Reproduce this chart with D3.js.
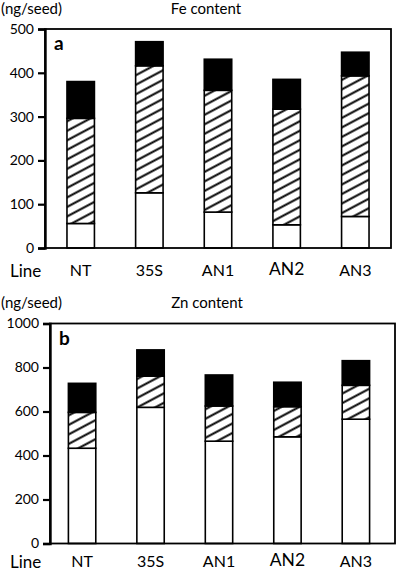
<!DOCTYPE html>
<html><head><meta charset="utf-8">
<script src="https://cdn.jsdelivr.net/npm/d3@7"></script>
<style>body{margin:0;background:#fff}svg{display:block;font-family:Lato,"Open Sans",sans-serif}</style>
</head><body><svg id="c" width="397" height="571"></svg>
<script>
const lines = ["NT","35S","AN1","AN2","AN3"];
const segKeys = ["white","hatch","black"];
const feWhite = [56,126,82,53,72];
const feHatch = [240,290,278,264,321];
const feBlack = [84,55,71,68,54];
const znWhite = [433,619,465,485,565];
const znHatch = [163,142,160,137,154];
const znBlack = [132,119,141,111,112];
const feTicks = [0,100,200,300,400,500];
const znTicks = [0,200,400,600,800,1000];

const svg = d3.select("#c");
const defs = svg.append("defs");
const pat = defs.append("pattern").attr("id","hatch").attr("patternUnits","userSpaceOnUse")
  .attr("width",10).attr("height",8.4).attr("patternTransform","rotate(-28)");
pat.append("rect").attr("width",10).attr("height",8.4).attr("fill","#fff");
pat.append("line").attr("x1",-1).attr("x2",11).attr("y1",4.2).attr("y2",4.2).attr("stroke","#000").attr("stroke-width",2);

function chart(cfg){
  const rows = lines.map((l,i)=>({line:l, white:cfg.w[i], hatch:cfg.h[i], black:cfg.b[i]}));
  const stack = d3.stack().keys(segKeys)(rows);
  const x = d3.scaleBand().domain(lines).range([cfg.x0,cfg.x1]).paddingInner(0.6).paddingOuter(0.32).align(cfg.align);
  const y = d3.scaleLinear().domain([0,cfg.max]).range([cfg.y0,cfg.y1]);
  const g = svg.append("g");
  const fills = {white:"#fff", hatch:"url(#hatch)", black:"#000"};
  stack.forEach(s=>{
    g.selectAll(null).data(s).enter().append("rect")
      .attr("x",d=>x(d.data.line)).attr("width",x.bandwidth())
      .attr("y",d=>y(d[1])).attr("height",d=>y(d[0])-y(d[1]))
      .attr("fill",fills[s.key]).attr("stroke","#000").attr("stroke-width",1.6);
  });
  g.append("rect").attr("x",cfg.x0).attr("y",cfg.y1).attr("width",cfg.x1-cfg.x0).attr("height",cfg.y0-cfg.y1)
    .attr("fill","none").attr("stroke","#000").attr("stroke-width",1.8);
  const ax = d3.axisLeft(y).tickValues(cfg.ticks).tickFormat(d3.format("d")).tickSize(7).tickPadding(4);
  const axg = g.append("g").attr("transform",`translate(${cfg.x0},0)`).call(ax);
  axg.select(".domain").attr("stroke-width",2.4);
  axg.selectAll(".tick line").attr("stroke-width",2.2);
  axg.selectAll("text").attr("font-size",14).attr("font-family","Lato,sans-serif").attr("fill","#000");
  g.selectAll(null).data(lines).enter().append("text")
    .attr("x",d=>x(d)+x.bandwidth()/2).attr("y",d=>d==="AN2"?cfg.labY-1.5:cfg.labY)
    .attr("text-anchor","middle").attr("font-size",d=>d==="AN2"?17.5:16).text(d=>d);
  g.append("text").attr("x",10).attr("y",cfg.labY+1).attr("font-size",17).text("Line");
  g.append("text").attr("x",1).attr("y",cfg.unitY).attr("font-size",15).text("(ng/seed)");
  g.append("text").attr("x",cfg.titleX).attr("y",cfg.unitY).attr("text-anchor","middle").attr("font-size",15).text(cfg.title);
  g.append("text").attr("x",cfg.x0+9).attr("y",cfg.y1+21).attr("font-size",19).attr("font-weight","bold").text(cfg.letter);
}

chart({w:feWhite,h:feHatch,b:feBlack,max:500,ticks:feTicks,x0:45,x1:391,y0:248,y1:29,align:0.5,labY:276,unitY:14,title:"Fe content",titleX:206,letter:"a"});
chart({w:znWhite,h:znHatch,b:znBlack,max:1000,ticks:znTicks,x0:50,x1:395,y0:543.5,y1:323.5,align:0.42,labY:567,unitY:308,title:"Zn content",titleX:207,letter:"b"});
</script></body></html>
